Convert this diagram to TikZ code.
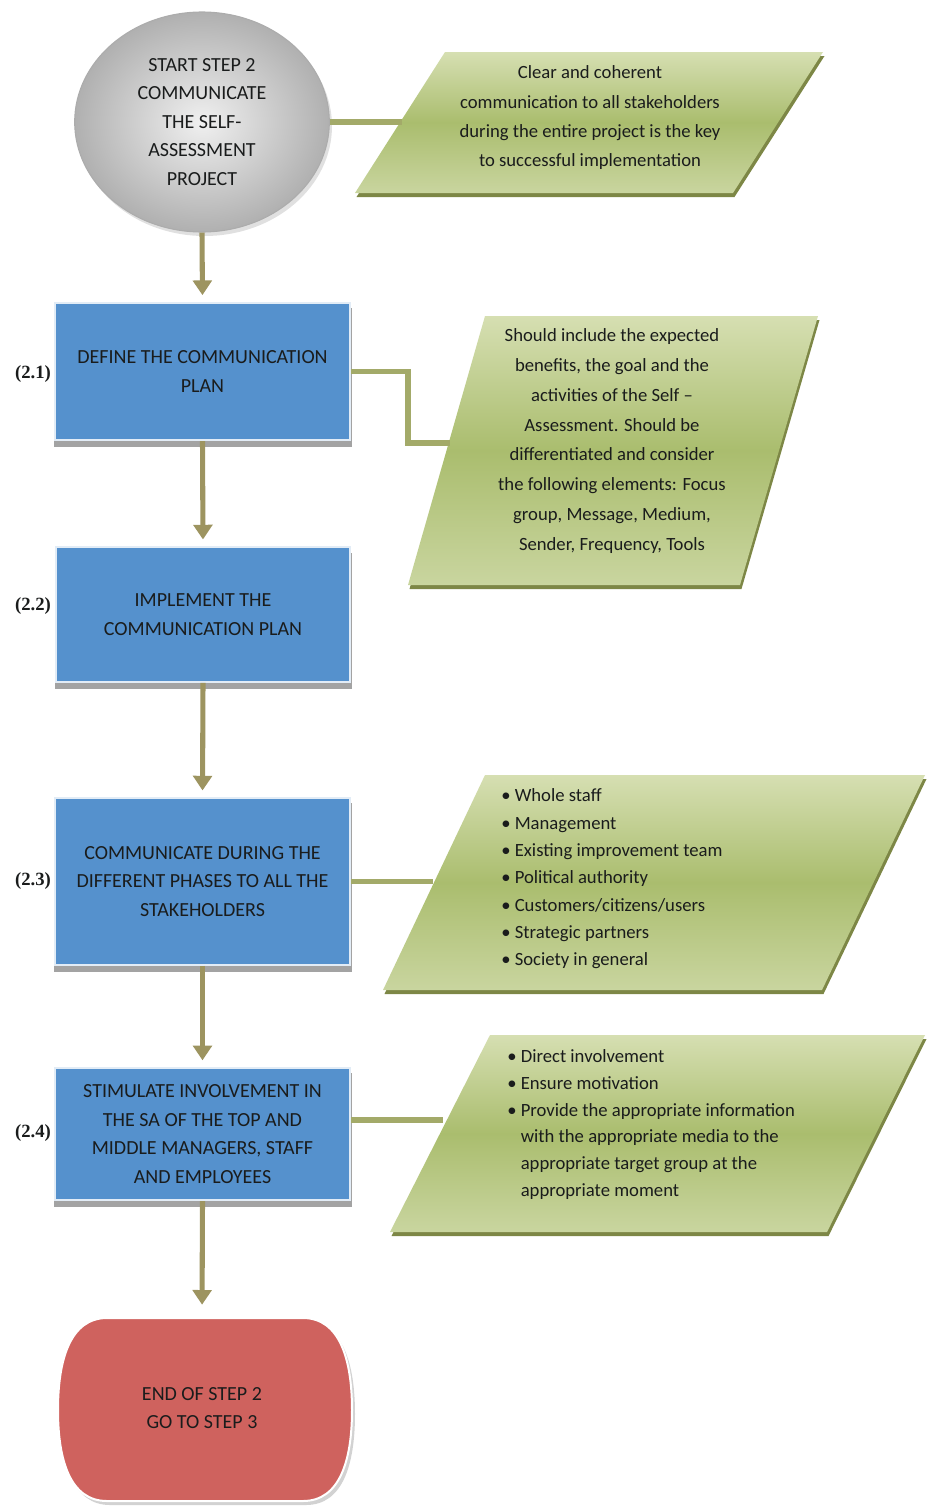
\documentclass[tikz,border=0pt]{standalone}
\usepackage{fontspec}
\setmainfont{Carlito}
\newfontfamily\numfont{Liberation Serif}
\usetikzlibrary{arrows.meta,shadows,shapes.geometric}

\definecolor{boxblue}{HTML}{5591CD}
\definecolor{boxedge}{HTML}{E2ECF6}
\definecolor{arrowkhaki}{HTML}{9D9460}
\definecolor{linkolive}{HTML}{A3AA69}
\definecolor{paratop}{HTML}{D6DFB2}
\definecolor{paramid}{HTML}{AABD6E}
\definecolor{parabot}{HTML}{C9D59F}
\definecolor{parashade}{HTML}{7D8746}
\definecolor{endred}{HTML}{CF625E}
\definecolor{inktext}{HTML}{1A1C1C}

% green input/output parallelogram: shadow first, then the shaded face
\newcommand\greenpara[4]{%
  \begin{scope}[shift={(1.5,4)}]
    \fill[parashade] (#1) -- (#2) -- (#3) -- (#4) -- cycle;
  \end{scope}
  \shade[top color=paratop, bottom color=parabot, middle color=paramid]
    (#1) -- (#2) -- (#3) -- (#4) -- cycle;}

\begin{document}
\begin{tikzpicture}[x=0.75pt, y=-0.75pt,
  every node/.style={text=inktext},
  stepbox/.style={rectangle, fill=boxblue, draw=boxedge, line width=1.6pt,
    minimum width=221pt, align=center, inner sep=0pt,
    font=\fontsize{15}{21.4}\selectfont,
    drop shadow={shadow xshift=0.5pt, shadow yshift=-4.5pt, shadow scale=1.01,
      fill=gray!80, opacity=0.9}},
  startnode/.style={ellipse, minimum width=191pt, minimum height=165pt,
    inner sep=0pt, align=center, draw=gray!65, line width=0.8pt,
    inner color=gray!12, outer color=gray!62, shading=radial,
    font=\fontsize{15}{21.4}\selectfont,
    drop shadow={shadow xshift=2pt, shadow yshift=-3pt, fill=gray!40, opacity=0.6}},
  paratext/.style={align=center, inner sep=0pt, font=\fontsize{14}{22}\selectfont},
  listtext/.style={align=left, inner sep=0pt, anchor=west},
  steplabel/.style={font=\numfont\bfseries\fontsize{14}{16}\selectfont, inner sep=0pt},
  flow/.style={draw=arrowkhaki, line width=3.8pt,
    -{Triangle[width=14pt,length=11pt]}, shorten >=5pt},
  link/.style={draw=linkolive, line width=3.8pt}
]
\useasboundingbox (0,0) rectangle (927,1506);

% ---------- side notes (parallelograms) ----------
\greenpara{445,52}{823,52}{733,193}{355,193}
\greenpara{485,316}{818,316}{740,585}{408,585}
\greenpara{485,775}{925,775}{822,990}{383,990}
\greenpara{490,1035}{925,1035}{827,1232}{390,1232}

\node[paratext, font=\fontsize{14}{22}\selectfont] (p1) at (590,118)
  {Clear and coherent\\communication to all stakeholders\\during the entire project is the key\\to successful implementation};
\node[paratext, font=\fontsize{14}{22.3}\selectfont] (p2) at (612,441)
  {Should include the expected\\benefits, the goal and the\\activities of the Self –\\Assessment. Should be\\differentiated and consider\\the following elements: Focus\\group, Message, Medium,\\Sender, Frequency, Tools};
\node[listtext, font=\fontsize{14}{20.5}\selectfont] (p3) at (501,879)
  {• Whole staff\\• Management\\• Existing improvement team\\• Political authority\\• Customers/citizens/users\\• Strategic partners\\• Society in general};
\node[listtext, font=\fontsize{14}{20}\selectfont] (p4) at (507,1124.5)
  {• Direct involvement\\• Ensure motivation\\• Provide the appropriate information\\\phantom{• }with the appropriate media to the\\\phantom{• }appropriate target group at the\\\phantom{• }appropriate moment};

% entry points of the connectors on the parallelogram edges
\coordinate (p1in) at (402,122);
\coordinate (p2bend) at (408,443);
\coordinate (p2in) at (450,443);
\coordinate (p3in) at (433,881.5);
\coordinate (p4in) at (443,1120);

% ---------- main flow ----------
\node[startnode] (start) at (202,122)
  {START STEP 2\\COMMUNICATE\\THE SELF-\\ASSESSMENT\\PROJECT};

\node[stepbox, minimum height=103pt] (b1) at (202.5,371.5)
  {DEFINE THE COMMUNICATION\\PLAN};
\node[stepbox, minimum height=101pt] (b2) at (203,614.5)
  {IMPLEMENT THE\\COMMUNICATION PLAN};
\node[stepbox, minimum height=125pt] (b3) at (202.5,881.5)
  {COMMUNICATE DURING THE\\DIFFERENT PHASES TO ALL THE\\STAKEHOLDERS};
\node[stepbox, minimum height=99pt] (b4) at (202.5,1134)
  {STIMULATE INVOLVEMENT IN\\THE SA OF THE TOP AND\\MIDDLE MANAGERS, STAFF\\AND EMPLOYEES};

\node[steplabel] (l1) at (33,374) {(2.1)};
\node[steplabel] (l2) at (33,606) {(2.2)};
\node[steplabel] (l3) at (33,881) {(2.3)};
\node[steplabel] (l4) at (33,1133) {(2.4)};

% terminal shape with bulging sides
\fill[gray!35] (110,1322) -- (306,1322) .. controls (343,1322) and (355,1364) .. (355,1414)
  .. controls (355,1464) and (343,1505) .. (306,1505) -- (110,1505)
  .. controls (73,1505) and (61,1464) .. (61,1414)
  .. controls (61,1364) and (73,1322) .. (110,1322) -- cycle;
\filldraw[fill=endred, draw=white, line width=1.5pt]
  (107,1318) -- (303,1318) .. controls (340,1318) and (352,1360) .. (352,1410)
  .. controls (352,1460) and (340,1501) .. (303,1501) -- (107,1501)
  .. controls (70,1501) and (58,1460) .. (58,1410)
  .. controls (58,1360) and (70,1318) .. (107,1318) -- cycle;
\node[align=center, inner sep=0pt, font=\fontsize{15}{21.4}\selectfont] (finish) at (202,1408)
  {END OF STEP 2\\GO TO STEP 3};
\coordinate (finishtop) at (202,1318);

% ---------- connectors ----------
\draw[link] (start.east) -- (p1in);
\draw[link] (b1.east) -| (p2bend) -- (p2in);
\draw[link] (b3.east) -- (p3in);
\draw[link] (b4.east |- p4in) -- (p4in);

\draw[flow] (start.south) -- (b1.north);
\draw[flow] (b1.south) -- (b2.north);
\draw[flow] (b2.south) -- (b3.north);
\draw[flow] (b3.south) -- (b4.north);
\draw[flow, shorten >=10pt] (b4.south) -- (finishtop);
\end{tikzpicture}
\end{document}
